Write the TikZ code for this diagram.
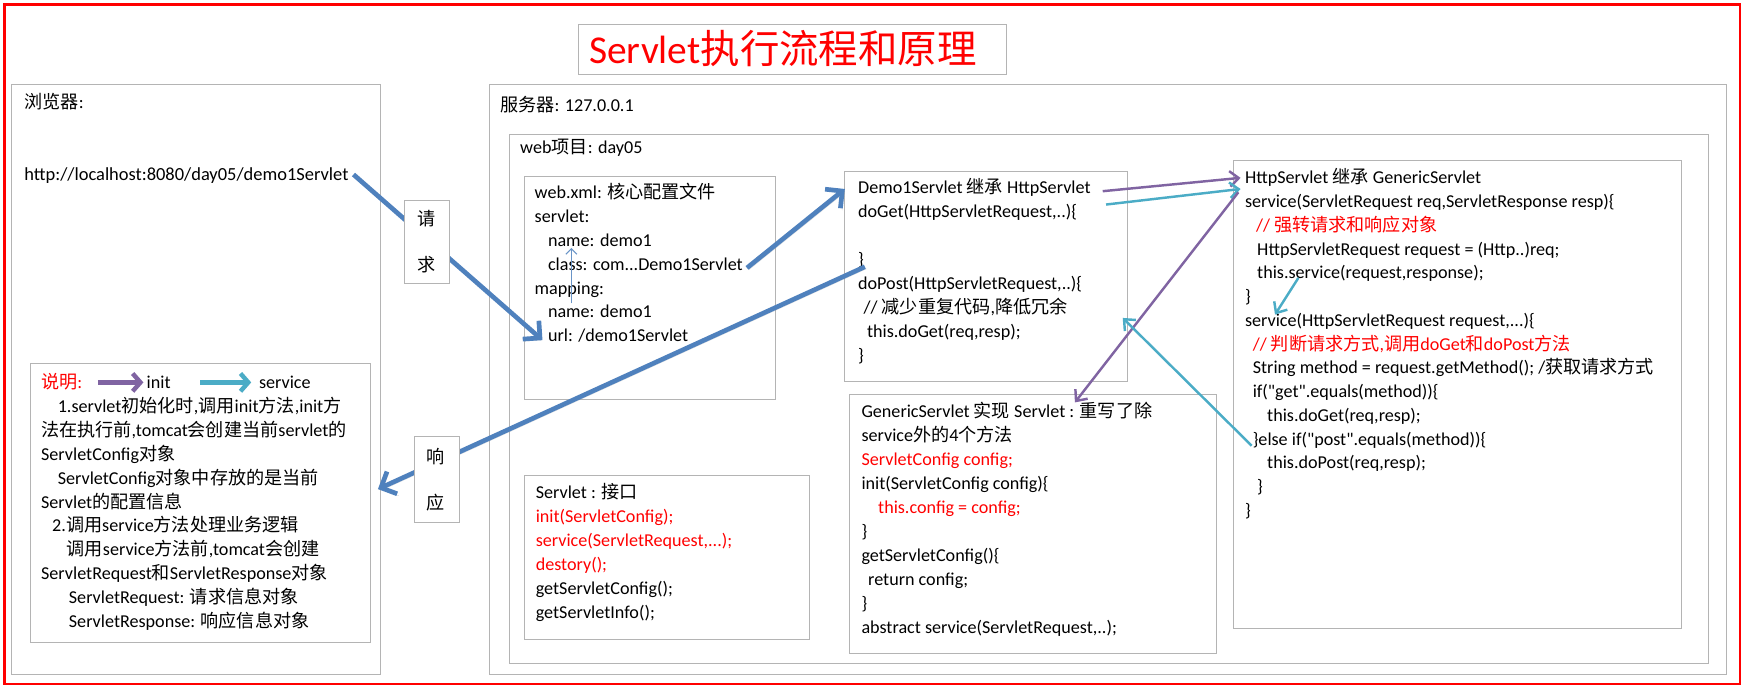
\documentclass[tikz,border=0pt]{standalone}
\usepackage{fontspec}
\setmainfont{Carlito}[Ligatures=TeXOff]
\newfontfamily\cjk{Noto Sans CJK SC}
\newcommand\zh[1]{{\cjk #1}}
\usetikzlibrary{arrows.meta}
\definecolor{obl}{HTML}{4F81BD}
\definecolor{opu}{HTML}{8064A2}
\definecolor{ocy}{HTML}{4BACC6}
\definecolor{gbox}{HTML}{B4B4B4}
\definecolor{tred}{HTML}{FF0000}
\tikzset{
  every node/.style={font=\fontsize{16.3}{21.5}\selectfont},
  txt/.style={anchor=base west, inner sep=0pt, outer sep=0pt},
  box/.style={draw=gbox, line width=0.9pt, anchor=north west, inner sep=0pt, outer sep=0pt},
  lblbox/.style={box, fill=white},
  shadowed/.style={preaction={draw=black!40, opacity=0.35, transform canvas={shift={(1.5pt,-1.8pt)}}}},
  bigblue/.style={draw=obl, line width=4.2pt, shadowed, -{Straight Barb[length=11pt,width=22pt]}},
  thinblue/.style={draw=obl!85, line width=1pt, -{Straight Barb[length=5pt,width=10pt]}},
  initarrow/.style={draw=opu, line width=2.2pt, -{Straight Barb[length=8pt,width=14pt]}},
  servarrow/.style={draw=ocy, line width=2.2pt, -{Straight Barb[length=8pt,width=14pt]}},
  legendinit/.style={draw=opu, line width=4pt, -{Straight Barb[length=7pt,width=16pt]}},
  legendserv/.style={draw=ocy, line width=4pt, -{Straight Barb[length=7pt,width=16pt]}}
}
\newcommand\bx[5]{\node[box, minimum width=#4pt, minimum height=#5pt] (#1) at (#2,#3) {};}
\newcommand\lines[1]{\parbox[t]{460pt}{\raggedright #1}}
\begin{document}
\begin{tikzpicture}[x=1pt,y=-1pt]
\useasboundingbox (0,0) rectangle (1568,618);
\fill[white] (0,0) rectangle (1568,618);
% outer frame
\node[draw=tred, line width=2.4pt, anchor=north west, inner sep=0pt, minimum width=1561pt, minimum height=611pt] (frame) at (3,3) {};
% title
\bx{title}{520}{22}{385}{45}
\node[txt, text=tred, font=\fontsize{35.5}{40}\selectfont] (titlet) at (530,57) {Servlet\zh{执行流程和原理}};
% main containers
\bx{browser}{10}{76}{332}{531}
\bx{server}{440}{76}{1113}{531}
\bx{webproj}{458}{121}{1079}{476}
\node[txt] (browsert) at (22,97.5) {\zh{浏览器}:};
\node[txt, font=\fontsize{16.6}{21.5}\selectfont] (urlt) at (22,162.5) {http://localhost:8080/day05/demo1Servlet};
\node[txt] (servert) at (450,100.5) {\zh{服务器}: 127.0.0.1};
\node[txt] (webprojt) at (468,138.5) {web\zh{项目}: day05};
% inner boxes
\bx{webxml}{472}{159}{226}{200}
\bx{demo}{760}{154}{254}{189}
\bx{http}{1110}{144}{403}{421}
\bx{generic}{764}{355}{330}{233}
\bx{servlet}{472}{428}{256}{147}
\bx{note}{27}{327}{306}{251}
% web.xml text
\node[txt] (webxmlt) at (481,178.5) {\lines{%
web.xml: \zh{核心配置文件}\\
servlet:\\
\hspace*{12pt}name: demo1\\
\hspace*{12pt}class: com...Demo1Servlet\\
mapping:\\
\hspace*{12pt}name: demo1\\
\hspace*{12pt}url: /demo1Servlet}};
% Demo1Servlet text
\node[txt] (demot) at (772,174.5) {\lines{%
Demo1Servlet \zh{继承} HttpServlet\\
doGet(HttpServletRequest,..)\{\\
\mbox{}\\
\}\\
doPost(HttpServletRequest,..)\{\\
\hspace*{5pt}// \zh{减少重复代码},\zh{降低冗余}\\
\hspace*{8pt}this.doGet(req,resp);\\
\}}};
% HttpServlet text
\node[txt] (httpt) at (1120,165.5) {\lines{\baselineskip=21.36pt
HttpServlet \zh{继承} GenericServlet\\
service(ServletRequest req,ServletResponse resp)\{\\
\hspace*{10pt}{\color{tred}// \zh{强转请求和响应对象}}\\
\hspace*{11pt}HttpServletRequest request = (Http..)req;\\
\hspace*{11pt}this.service(request,response);\\
\}\\
service(HttpServletRequest request,...)\{\\
\hspace*{7pt}{\color{tred}// \zh{判断请求方式},\zh{调用}doGet\zh{和}doPost\zh{方法}}\\
\hspace*{7pt}String method = request.getMethod(); /\zh{获取请求方式}\\
\hspace*{7pt}if("get".equals(method))\{\\
\hspace*{20pt}this.doGet(req,resp);\\
\hspace*{7pt}\}else if("post".equals(method))\{\\
\hspace*{20pt}this.doPost(req,resp);\\
\hspace*{11pt}\}\\
\}}};
% GenericServlet text
\node[txt] (generict) at (775,375.5) {\lines{\baselineskip=21.55pt
GenericServlet \zh{实现} Servlet : \zh{重写了除}\\
service\zh{外的}4\zh{个方法}\\
{\color{tred}ServletConfig config;}\\
init(ServletConfig config)\{\\
\hspace*{15pt}{\color{tred}this.config = config;}\\
\}\\
getServletConfig()\{\\
\hspace*{6pt}return config;\\
\}\\
abstract service(ServletRequest,..);}};
% Servlet text
\node[txt] (servlett) at (482,448.5) {\lines{\baselineskip=21.6pt
Servlet : \zh{接口}\\
{\color{tred}init(ServletConfig);}\\
{\color{tred}service(ServletRequest,...);}\\
{\color{tred}destory();}\\
getServletConfig();\\
getServletInfo();}};
% note text
\node[txt, text=tred] (notet) at (37,349.5) {\zh{说明}:};
\node[txt] (initl) at (132,349.5) {init};
\node[txt] (servl) at (233,349.5) {service};
\coordinate (li1) at (88,344); \coordinate (li2) at (129,344);
\coordinate (ls1) at (180,344); \coordinate (ls2) at (226,344);
\draw[legendinit] (li1) -- (li2);
\draw[legendserv] (ls1) -- (ls2);
\node[txt] (notebody) at (37,371.5) {\lines{\baselineskip=21.4pt
\hspace*{15pt}1.servlet\zh{初始化时},\zh{调用}init\zh{方法},init\zh{方}\\
\zh{法在执行前},tomcat\zh{会创建当前}servlet\zh{的}\\
ServletConfig\zh{对象}\\
\hspace*{15pt}ServletConfig\zh{对象中存放的是当前}\\
Servlet\zh{的配置信息}\\
\hspace*{10pt}2.\zh{调用}service\zh{方法处理业务逻辑}\\
\hspace*{23pt}\zh{调用}service\zh{方法前},tomcat\zh{会创建}\\
ServletRequest\zh{和}ServletResponse\zh{对象}\\
\hspace*{25pt}ServletRequest: \zh{请求信息对象}\\
\hspace*{25pt}ServletResponse: \zh{响应信息对象}}};
% arrow end points
\coordinate (a1s) at (318,157); \coordinate (a1e) at (488,306);
\coordinate (a2s) at (672,241); \coordinate (a2e) at (760,170);
\coordinate (a3s) at (778,240); \coordinate (a3e) at (340,440);
\coordinate (a4s) at (514,273); \coordinate (a4e) at (514,223);
\coordinate (a5s) at (992,172); \coordinate (a5e) at (1116,160);
\coordinate (a6s) at (995,184); \coordinate (a6e) at (1116,170);
\coordinate (a7s) at (1114,173); \coordinate (a7e) at (967,362);
\coordinate (a8s) at (1168,250); \coordinate (a8e) at (1147,283);
\coordinate (a9s) at (1126,401); \coordinate (a9e) at (1010,286);
% arrows
\draw[bigblue] (a1s) -- (a1e);
\draw[bigblue] (a2s) -- (a2e);
\draw[bigblue] (a3s) -- (a3e);
\draw[thinblue] (a4s) -- (a4e);
\draw[initarrow] (a5s) -- (a5e);
\draw[servarrow] (a6s) -- (a6e);
\draw[initarrow] (a7s) -- (a7e);
\draw[servarrow] (a8s) -- (a8e);
\draw[servarrow] (a9s) -- (a9e);
% label boxes over arrows
\node[lblbox, minimum width=40pt, minimum height=75pt] (reqbox) at (364,180) {};
\node[anchor=center, inner sep=0pt] (req1) at (384,197) {\zh{请}};
\node[anchor=center, inner sep=0pt] (req2) at (384,238) {\zh{求}};
\node[lblbox, minimum width=40pt, minimum height=77pt] (respbox) at (373,393) {};
\node[anchor=center, inner sep=0pt] (resp1) at (392,411) {\zh{响}};
\node[anchor=center, inner sep=0pt] (resp2) at (392,452) {\zh{应}};
\end{tikzpicture}
\end{document}
